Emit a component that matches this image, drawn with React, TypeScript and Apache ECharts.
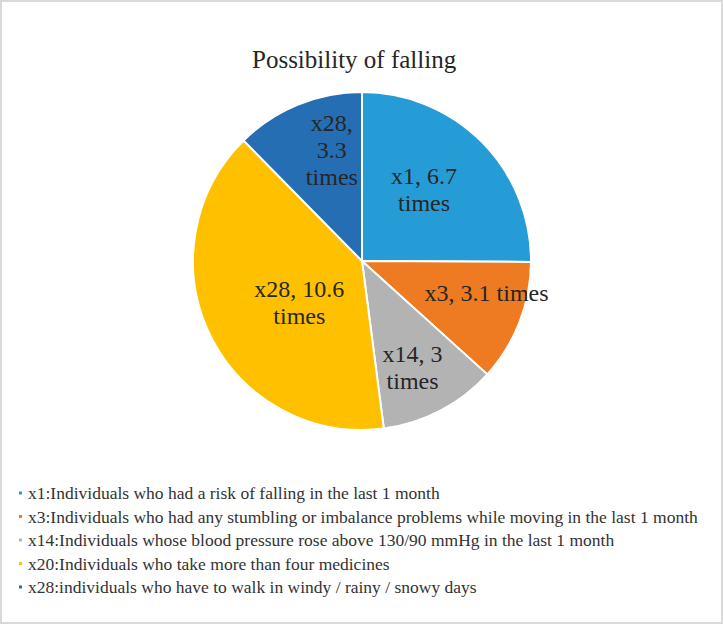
import React, { useEffect, useRef } from "react";
import * as echarts from "echarts";

const titleText = "Possibility of falling";
const legendNames = [
  "x1:Individuals who had a risk of falling in the last 1 month",
  "x3:Individuals who had any stumbling or imbalance problems while moving in the last 1 month",
  "x14:Individuals whose blood pressure rose above 130/90 mmHg in the last 1 month",
  "x20:Individuals who take more than four medicines",
  "x28:individuals who have to walk in windy / rainy / snowy days",
];
const labelTexts = ["x1, 6.7\ntimes", "x3, 3.1 times", "x14, 3\ntimes", "x28, 10.6\ntimes", "x28,\n3.3\ntimes"];
const values = [6.7, 3.1, 3, 10.6, 3.3];
const colors = ["#259CD6", "#EE7B21", "#B3B3B3", "#FFC000", "#256EB3"];
const labelShift = [
  [0, -10],
  [43, 0],
  [10, 29],
  [16, 3],
  [3, -30],
];

export default function App() {
  const ref = useRef<HTMLDivElement>(null);
  useEffect(() => {
    document.body.style.margin = "0";
    const chart = echarts.init(ref.current!, null, { renderer: "svg" });
    const font = "Liberation Serif";
    chart.setOption({
      animation: false,
      textStyle: { fontFamily: font },
      title: {
        text: titleText,
        left: 247,
        top: 42,
        textStyle: { fontFamily: font, fontSize: 25, fontWeight: "normal", color: "#262626" },
      },
      graphic: [
        {
          type: "rect",
          shape: { x: 1, y: 1, width: 721, height: 622 },
          style: { fill: "none", stroke: "#D9D9D9", lineWidth: 2 },
          silent: true,
        },
      ],
      legend: {
        orient: "vertical",
        left: 12,
        top: 479,
        icon: "rect",
        itemWidth: 5,
        itemHeight: 5,
        itemGap: 5.5,
        textStyle: { fontFamily: font, fontSize: 17.5, color: "#333", lineHeight: 18 },
        data: legendNames,
      },
      series: [
        {
          type: "pie",
          center: [362, 261],
          radius: [0, 169],
          startAngle: 90,
          clockwise: true,
          color: colors,
          itemStyle: { borderColor: "#fff", borderWidth: 2 },
          label: {
            show: true,
            position: "inside",
            fontFamily: font,
            fontSize: 24,
            lineHeight: 27,
            color: "#262626",
            formatter: (p: any) => labelTexts[p.dataIndex],
          },
          labelLayout: (p: any) => ({ dx: labelShift[p.dataIndex][0], dy: labelShift[p.dataIndex][1] }),
          data: values.map((v, i) => ({ name: legendNames[i], value: v })),
        },
      ],
    });
    return () => chart.dispose();
  }, []);
  return <div ref={ref} style={{ width: 723, height: 624 }} />;
}
